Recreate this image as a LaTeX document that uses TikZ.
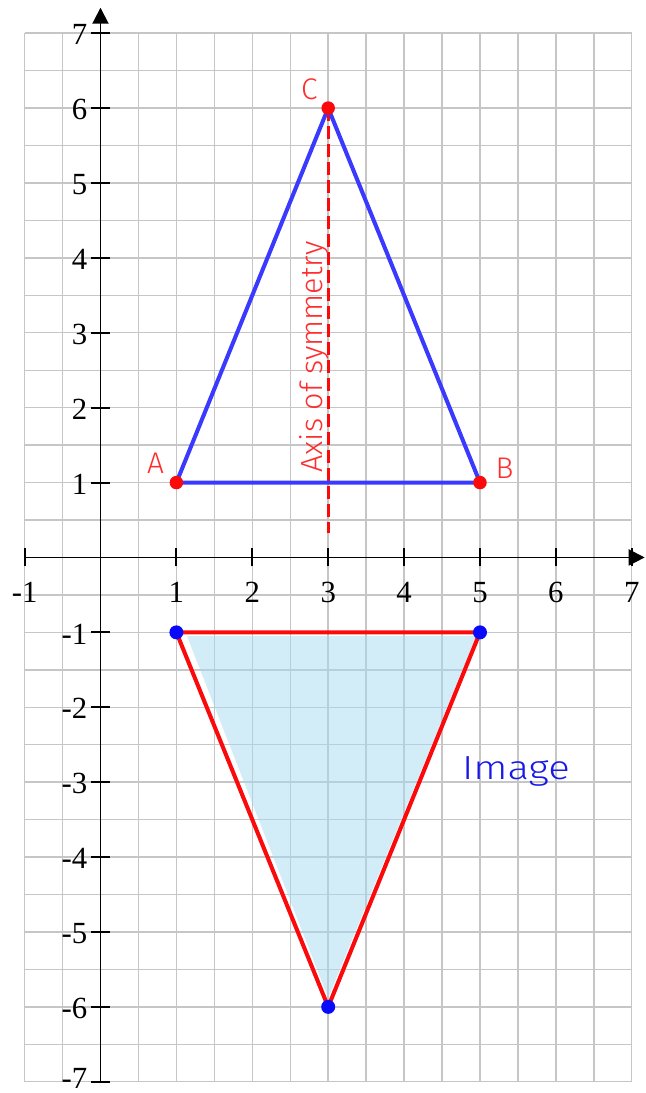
\documentclass[tikz,border=0pt]{standalone}
\usepackage{fontspec}
\setmainfont{Liberation Serif}
\newfontfamily\handfont{Fira Sans Light}
\usetikzlibrary{arrows.meta}
\definecolor{gridgray}{RGB}{198,198,198}
\definecolor{triblue}{RGB}{58,58,255}
\definecolor{ptred}{RGB}{250,10,10}
\definecolor{imgfill}{RGB}{165,218,242}
\definecolor{lblred}{RGB}{255,45,45}
\definecolor{lblblue}{RGB}{25,25,230}
\definecolor{ptblue}{RGB}{10,10,250}
\begin{document}
\begin{tikzpicture}[x=1.518cm,y=1.498cm,
  gridline/.style={draw=gridgray,line width=0.8pt},
  axisline/.style={draw=black,line width=1.1pt},
  tickmark/.style={draw=black,line width=1.1pt},
  numlabel/.style={font=\fontsize{17.5}{20}\selectfont,inner sep=0pt},
  reddot/.style={circle,fill=ptred,inner sep=0pt,minimum size=0.27cm},
  bluedot/.style={circle,fill=ptblue,inner sep=0pt,minimum size=0.28cm},
  vertexlabel/.style={text=lblred,font=\handfont\fontsize{17}{19}\selectfont,inner sep=0pt,anchor=base west},
  edgeline/.style={line width=2.3pt,line join=round},
  symline/.style={draw=ptred,line width=1.7pt,dash pattern=on 0.26cm off 0.1cm}
]
\useasboundingbox (-1.324,-7.150) rectangle (7.187,7.443);
% grid
\draw[gridline,step=0.5] (-1,-7) grid (7,7);
% axes
\coordinate (xs) at (-1,0);
\coordinate (xe) at (7.17,0);
\coordinate (ys) at (0,-7);
\coordinate (ye) at (0,7.34);
\draw[axisline,-{Triangle[length=0.32cm,width=0.32cm]}] (xs) -- (xe);
\draw[axisline,-{Triangle[length=0.32cm,width=0.32cm]}] (ys) -- (ye);
% ticks and labels
\foreach \x in {-1,1,2,3,4,5,6,7}{
  \draw[tickmark] (\x,-0.12) -- (\x,0.12);
  \node[numlabel] (xl\x) at (\x,-0.47) {\x};
}
\foreach \y in {-7,-6,-5,-4,-3,-2,-1,1,2,3,4,5,6,7}{
  \draw[tickmark] (-0.12,\y) -- (0.12,\y);
}
\foreach \y in {-6,-5,-4,-3,-2,-1,1,2,3,4,5,6,7}{
  \node[numlabel,anchor=east] (yl\y) at (-0.17,\y-0.02) {\y};
}
\node[numlabel,anchor=east] (yl-7) at (-0.17,-6.95) {-7};
% original triangle
\coordinate (A) at (1,1);
\coordinate (B) at (5,1);
\coordinate (C) at (3,6);
\coordinate (S) at (3,0.33);
\draw[symline] (C) -- (S);
\draw[edgeline,draw=triblue] (A) -- (B) -- (C) -- cycle;
\node[reddot] (dA) at (A) {};
\node[reddot] (dB) at (B) {};
\node[reddot] (dC) at (C) {};
\node[vertexlabel] (lA) at (0.61,1.115) {A};
\node[vertexlabel] (lB) at (5.20,1.06) {B};
\node[vertexlabel] (lC) at (2.64,6.11) {C};
\node[text=lblred,font=\handfont\fontsize{17.4}{20}\selectfont,inner sep=0pt,anchor=base west,rotate=90] (axlbl) at (2.93,1.13) {Axis of symmetry};
% image triangle
\coordinate (Ai) at (1,-1);
\coordinate (Bi) at (5,-1);
\coordinate (Ci) at (3,-6);
\fill[imgfill,fill opacity=0.5] (1.14,-1.05) -- (4.95,-1.05) -- (3,-5.88) -- cycle;
\draw[edgeline,draw=ptred] (Ai) -- (Bi) -- (Ci) -- cycle;
\node[bluedot] (dAi) at (Ai) {};
\node[bluedot] (dBi) at (Bi) {};
\node[bluedot] (dCi) at (Ci) {};
\node[text=lblblue,font=\handfont\fontsize{19}{22}\selectfont,inner sep=0pt,anchor=base west] (imglbl) at (4.76,-2.97) {\scalebox{1.2}[1]{Image}};
\end{tikzpicture}
\end{document}
